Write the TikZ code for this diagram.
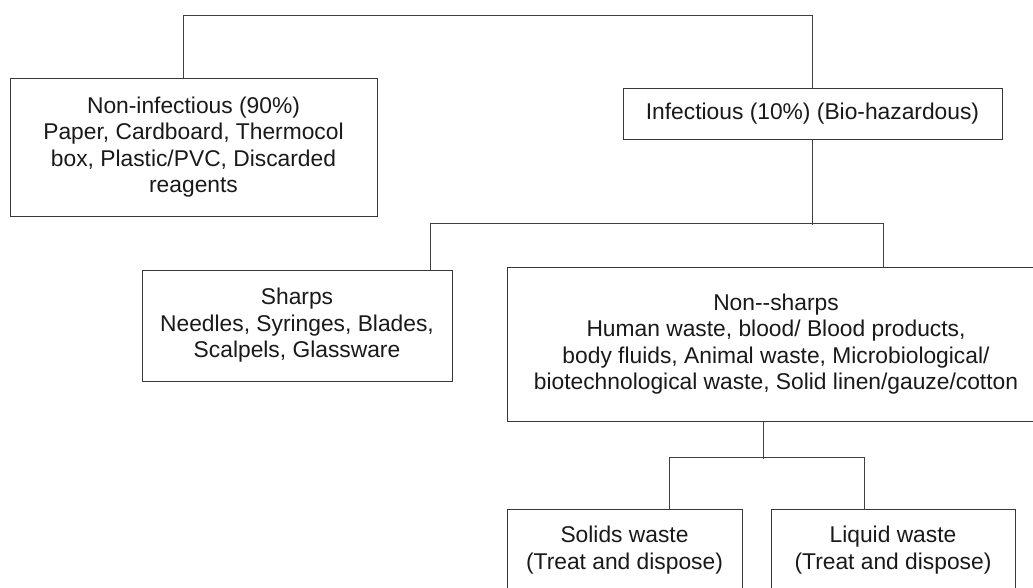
\documentclass[tikz,border=0pt]{standalone}
\usepackage{fontspec}
\setmainfont{Liberation Sans}
\usetikzlibrary{positioning}

\begin{document}
\begin{tikzpicture}[x=1pt,y=-1pt,
  wastebox/.style={draw=black!78,line width=1pt,rectangle,inner sep=0pt,
    align=center,text=black!90,font=\fontsize{22.8pt}{26.5pt}\selectfont},
  link/.style={draw=black!75,line width=1pt}]
\clip (0,0) rectangle (1033,587);
\node[wastebox,minimum width=367pt,minimum height=138pt] (ni) at (193.5,147)
  {Non-infectious (90\%)\\Paper, Cardboard, Thermocol\\box, Plastic/PVC, Discarded\\reagents};
\node[wastebox,minimum width=379pt,minimum height=51pt] (inf) at (812.5,113.5)
  {Infectious (10\%) (Bio-hazardous)};
\node[wastebox,minimum width=310pt,minimum height=111pt] (sh) at (297,325.5)
  {Sharps\\Needles, Syringes, Blades,\\Scalpels, Glassware};
\node[wastebox,minimum width=538pt,minimum height=154pt] (ns) at (776,344)
  {Non-{}-sharps\\Human waste, blood/ Blood products,\\body fluids, Animal waste, Microbiological/\\biotechnological waste, Solid linen/gauze/cotton};
\node[wastebox,minimum width=235pt,minimum height=82pt] (sol) at (624.5,550)
  {Solids waste\\(Treat and dispose)};
\node[wastebox,minimum width=244pt,minimum height=82pt,right=28pt of sol] (liq)
  {Liquid waste\\(Treat and dispose)};
\draw[link] ([xshift=-10.5pt]ni.north) -- ++(0,-62) -| (inf.north);
\draw[link] (inf.south) -- ++(0,85);
\draw[link] ([xshift=133pt]sh.north) -- ++(0,-46) -| ([xshift=107pt]ns.north);
\draw[link] ([xshift=-13pt]ns.south) -- ++(0,37);
\draw[link] ([xshift=44.5pt]sol.north) -- ++(0,-51) -| ([xshift=-29pt]liq.north);
\end{tikzpicture}
\end{document}
